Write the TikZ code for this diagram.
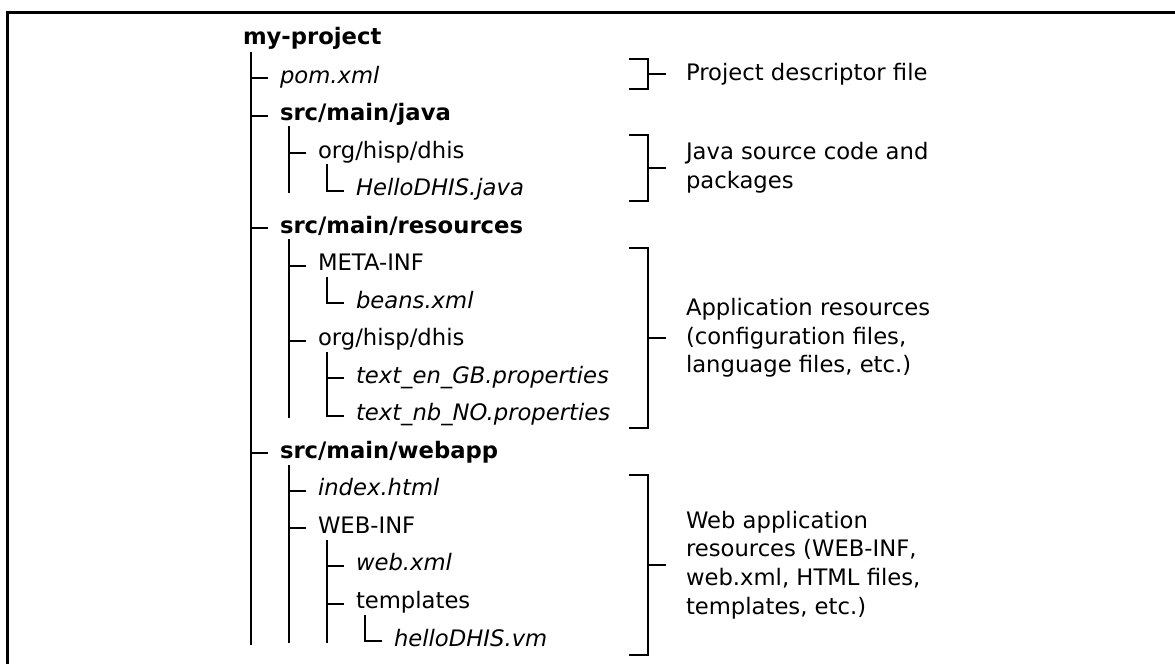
\documentclass[tikz,border=0pt]{standalone}
\usepackage{fontspec}
\setmainfont{DejaVu Sans}[BoldFont={DejaVu Sans Bold},ItalicFont={DejaVu Sans Oblique}]
\newcommand\tfont{\fontsize{22.7}{28.6}\selectfont}
\newcommand\tk[1]{\draw[tree] ([shift={(-12pt,5pt)}]#1.base west) -- ++(-17,0);}
\newcommand\tkL[2]{\draw[tree] (#2) |- ([shift={(-12pt,5pt)}]#1.base west);}
\begin{document}
\begin{tikzpicture}[x=1pt,y=-1pt,
  every node/.style={inner sep=0pt, outer sep=0pt},
  item/.style={anchor=base west, font=\tfont},
  dirname/.style={anchor=base west, font=\tfont\bfseries},
  file/.style={anchor=base west, font=\tfont\itshape},
  desc/.style={anchor=west, align=left, font=\tfont},
  tree/.style={line width=2pt},
  frame/.style={line width=3pt}]
\useasboundingbox (0,0) rectangle (1175,664);
\draw[frame] (7,664) -- (7,12) -- (1175,12);

% tree nodes
\node[dirname] (root) at (243,44) {my-project};
\node[file] (pom) at (280,83) {pom.xml};
\node[dirname] (java) at (280,120.6) {src/main/java};
\node[item] (org1) at (318,158.1) {org/hisp/dhis};
\node[file] (hello) at (356,195.6) {HelloDHIS.java};
\node[dirname] (res) at (280,233.2) {src/main/resources};
\node[item] (meta) at (318,270.7) {META-INF};
\node[file] (beans) at (356,308.2) {beans.xml};
\node[item] (org2) at (318,345.7) {org/hisp/dhis};
\node[file] (en) at (356,383.3) {text\_en\_GB.properties};
\node[file] (nb) at (356,420.8) {text\_nb\_NO.properties};
\node[dirname] (webapp) at (280,458.3) {src/main/webapp};
\node[file] (index) at (318,495.9) {index.html};
\node[item] (webinf) at (318,533.4) {WEB-INF};
\node[file] (webxml) at (356,570.9) {web.xml};
\node[item] (templ) at (356,608.5) {templates};
\node[file] (vm) at (394,646) {helloDHIS.vm};

% vertical line tops
\coordinate (v0) at (251,52);
\coordinate (vjava) at (289,126);
\coordinate (vorg1) at (327,164);
\coordinate (vres) at (289,239);
\coordinate (vmeta) at (327,277);
\coordinate (vorg2) at (327,352);
\coordinate (vweb) at (289,465);
\coordinate (vwebinf) at (327,540);
\coordinate (vtempl) at (365,615);

\draw[tree] (v0) -- (251,645);
\draw[tree] (vjava) -- (289,193);
\draw[tree] (vres) -- (289,418);
\draw[tree] (vweb) -- (289,643);
\draw[tree] (vwebinf) -- (327,643);

\tk{pom} \tk{java} \tk{res} \tk{webapp}
\tk{org1} \tkL{hello}{vorg1}
\tk{meta} \tkL{beans}{vmeta}
\tk{org2} \tk{en} \tkL{nb}{vorg2}
\tk{index} \tk{webinf}
\tk{webxml} \tk{templ} \tkL{vm}{vtempl}

% descriptions
\node[desc] (d1) at (686,74) {Project descriptor file};
\node[desc] (d2) at (686,168) {Java source code and\\packages};
\node[desc] (d3) at (686,338) {Application resources\\(configuration files,\\language files, etc.)};
\node[desc] (d4) at (686,565) {Web application\\resources (WEB-INF,\\web.xml, HTML files,\\templates, etc.)};

\draw[tree] (629,59) -| (648,89) -- (629,89);
\draw[tree] (648,74) -- ([xshift=-20pt]d1.west);
\draw[tree] (629,135) -| (648,201) -- (629,201);
\draw[tree] (648,168) -- ([xshift=-20pt]d2.west);
\draw[tree] (629,248) -| (648,428) -- (629,428);
\draw[tree] (648,338) -- ([xshift=-20pt]d3.west);
\draw[tree] (629,475) -| (648,655) -- (629,655);
\draw[tree] (648,565) -- ([xshift=-20pt]d4.west);
\end{tikzpicture}
\end{document}
